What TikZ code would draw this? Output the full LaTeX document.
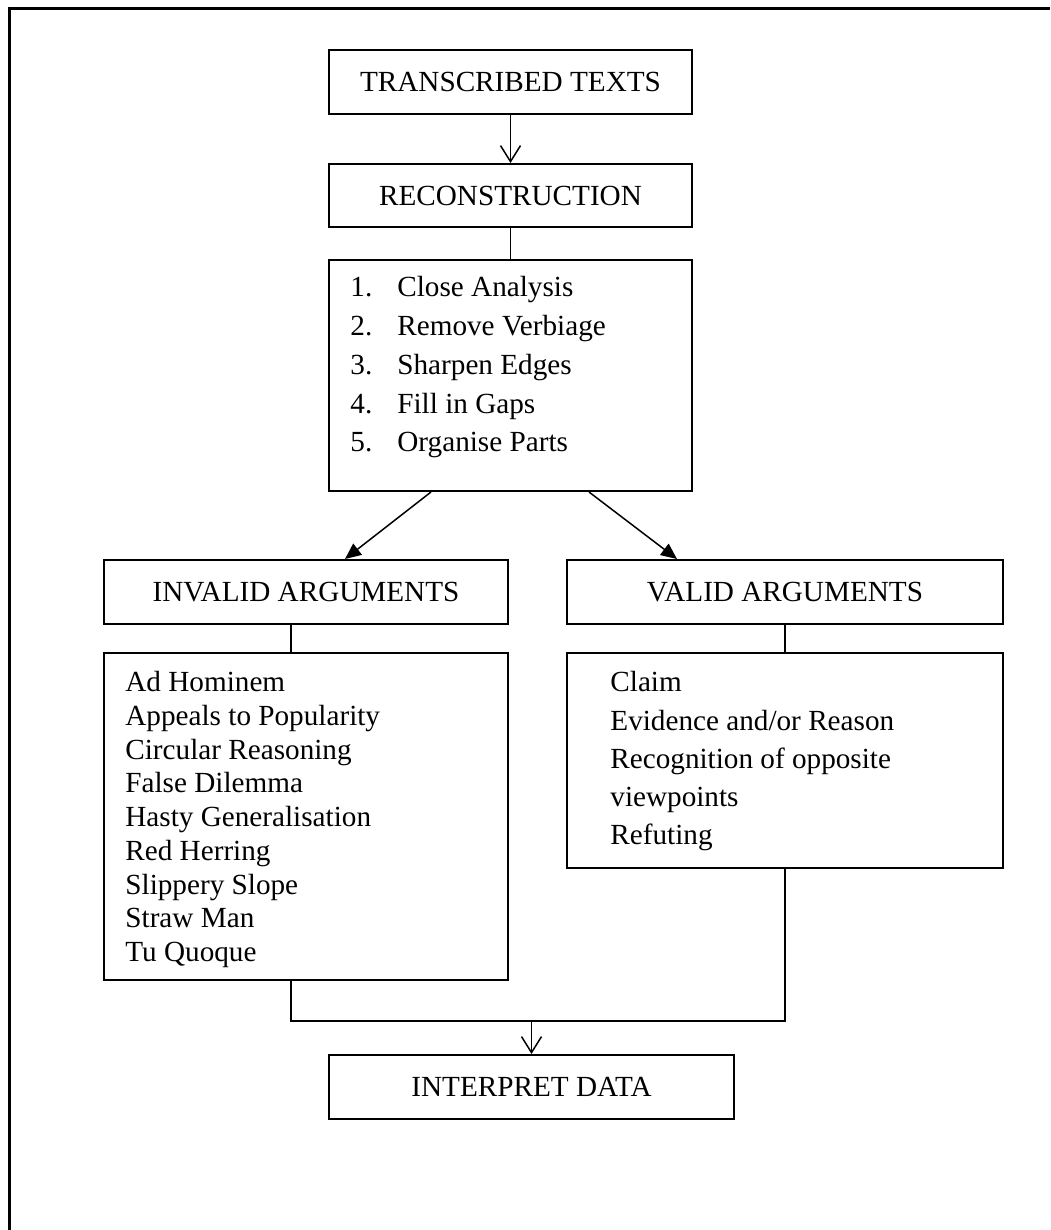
\documentclass[tikz,border=0pt]{standalone}
\usepackage{fontspec}
\setmainfont{Liberation Serif}
\usetikzlibrary{arrows.meta,calc}
\begin{document}
\begin{tikzpicture}[x=0.5pt,y=-0.5pt,
  box/.style={draw, line width=1pt, rectangle, inner sep=0pt, font=\fontsize{14.6}{17}\selectfont},
  listtext/.style={anchor=base west, inner sep=0pt},
  conn/.style={line width=0.75pt},
  openarrow/.style={conn, -{Straight Barb[length=8pt,width=10pt,line width=0.75pt]}},
  fillarrow/.style={conn, -{Triangle[length=8pt,width=7pt]}},
]
\useasboundingbox (0,0) rectangle (1050,1230);
% outer frame
\draw[line width=1.5pt] (9,1230) -- (9,9) -- (1050,9);

\node[box, minimum width=181.5pt, minimum height=32pt] (trans) at (510.5,82) {TRANSCRIBED TEXTS};
\node[box, minimum width=181.5pt, minimum height=31.5pt] (recon) at (510.5,195.5) {RECONSTRUCTION};
\node[box, minimum width=181.5pt, minimum height=115.5pt] (steps) at (510.5,375.5) {};
\node[listtext, font=\fontsize{14.6}{19.4}\selectfont] (stepstext) at (350,296.7) {%
  \begin{tabular}[t]{@{}p{23.5pt}@{}l@{}}
  1. & Close Analysis\\
  2. & Remove Verbiage\\
  3. & Sharpen Edges\\
  4. & Fill in Gaps\\
  5. & Organise Parts
  \end{tabular}};

\node[box, minimum width=202pt, minimum height=32pt] (invalid) at (306,592) {INVALID ARGUMENTS};
\node[box, minimum width=218pt, minimum height=32pt] (valid) at (785,592) {VALID ARGUMENTS};

\node[box, minimum width=202pt, minimum height=163.5pt] (invlist) at (306,816.5) {};
\node[listtext, font=\fontsize{14.6}{16.875}\selectfont] (invtext) at (125,691.7) {%
  \begin{tabular}[t]{@{}l@{}}
  Ad Hominem\\
  Appeals to Popularity\\
  Circular Reasoning\\
  False Dilemma\\
  Hasty Generalisation\\
  Red Herring\\
  Slippery Slope\\
  Straw Man\\
  Tu Quoque
  \end{tabular}};

\node[box, minimum width=218pt, minimum height=107.5pt] (vallist) at (785,760.5) {};
\node[listtext, font=\fontsize{14.6}{19.15}\selectfont] (valtext) at (610,691.7) {%
  \begin{tabular}[t]{@{}l@{}}
  Claim\\
  Evidence and/or Reason\\
  Recognition of opposite\\
  viewpoints\\
  Refuting
  \end{tabular}};

\node[box, minimum width=202.5pt, minimum height=32pt] (interp) at (531.5,1087) {INTERPRET DATA};

% connectors
\draw[openarrow] (trans.south) -- (recon.north);
\draw[conn] (recon.south) -- (steps.north);
\draw[fillarrow] ($(steps.south west)+(103,0)$) -- ($(invalid.north west)+(242,0)$);
\draw[fillarrow] ($(steps.south west)+(261,0)$) -- ($(valid.north west)+(111,0)$);
\draw[conn] ($(invalid.south west)+(188,0)$) -- ($(invlist.north west)+(188,0)$);
\draw[conn] (valid.south) -- (vallist.north);
\coordinate (mergeL) at ($(invlist.south west)+(188,40)$);
\draw[conn] ($(invlist.south west)+(188,0)$) -- (mergeL) -| (vallist.south);
\draw[openarrow] (interp.north |- mergeL) -- (interp.north);
\end{tikzpicture}
\end{document}
